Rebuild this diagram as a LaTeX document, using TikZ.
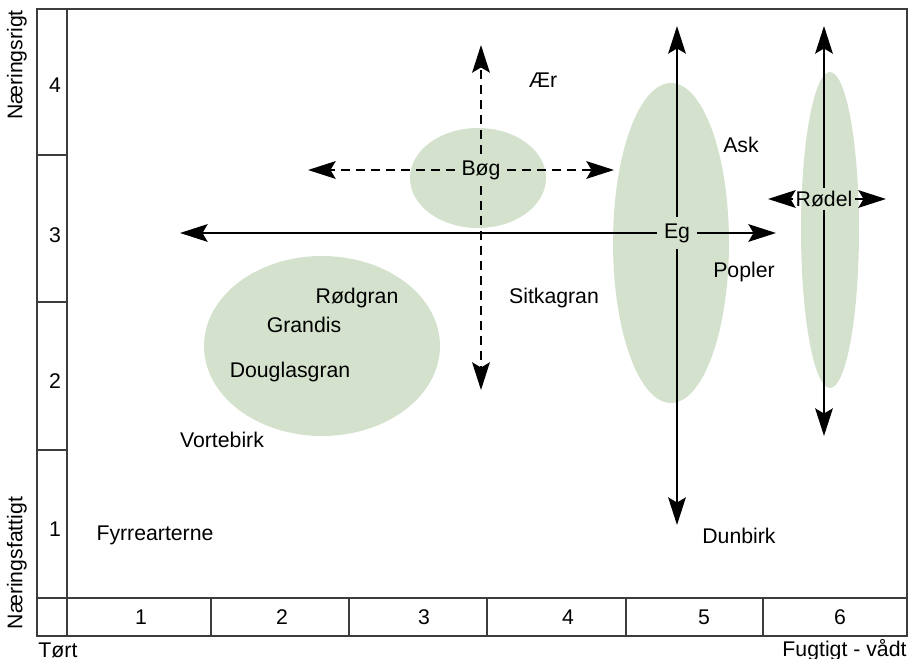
\documentclass[tikz,border=0pt]{standalone}
\usepackage{fontspec}
\setmainfont{Liberation Sans}
\usetikzlibrary{arrows.meta}

\definecolor{leafgreen}{RGB}{212,226,205}
\definecolor{gridgray}{RGB}{60,60,60}

\begin{document}
\begin{tikzpicture}[x=0.4pt,y=-0.4pt,font=\fontsize{8.5}{10}\selectfont,
    zone/.style={fill=leafgreen},
    frameline/.style={draw=gridgray, line width=0.6pt},
    spread/.style={-{Stealth[length=11pt,width=7pt,inset=2pt]}, line width=1.1pt},
    spreaddash/.style={spread, dash pattern=on 3.6pt off 2.4pt},
    tree/.style={inner sep=2.5pt}]
    \useasboundingbox (0,0) rectangle (921,659);

    % raster
    \draw[frameline] (37,9) rectangle (907,636);
    \draw[frameline] (67,9) -- (67,636);
    \draw[frameline] (37,598) -- (907,598);
    \foreach \y in {155,302,450} \draw[frameline] (37,\y) -- (67,\y);
    \foreach \x in {211,349,487,626,763} \draw[frameline] (\x,598) -- (\x,636);

    \node (n4) at (55,85) {4};
    \node (n3) at (55,235) {3};
    \node (n2) at (55,381) {2};
    \node (n1) at (55,529) {1};
    \node (m1) at (141,617) {1};
    \node (m2) at (282,617) {2};
    \node (m3) at (424,617) {3};
    \node (m4) at (568,617) {4};
    \node (m5) at (704,617) {5};
    \node (m6) at (840,617) {6};

    \node[rotate=90] (rich) at (17,65) {Næringsrigt};
    \node[rotate=90] (poor) at (17,563) {Næringsfattigt};
    \node[anchor=west, inner sep=0pt] (dry) at (38,650) {Tørt};
    \node[anchor=east, inner sep=0pt] (wet) at (907,650) {Fugtigt - vådt};

    % felter
    \fill[zone] (478,178) ellipse [x radius=68, y radius=50];
    \fill[zone] (322,346) ellipse [x radius=118, y radius=90];
    \fill[zone] (671,243) ellipse [x radius=58, y radius=160];
    \fill[zone] (830,230) ellipse [x radius=29, y radius=158];

    \node[tree] (boeg) at (481,170) {Bøg};
    \node[tree] (eg) at (677,233) {Eg};
    \node[inner sep=1pt] (roedel) at (824,199) {Rødel};

    \coordinate (boegN) at (481,45);
    \coordinate (boegS) at (481,390);
    \coordinate (boegW) at (308,170);
    \coordinate (boegE) at (614,170);
    \coordinate (egN) at (677,26);
    \coordinate (egS) at (677,525);
    \coordinate (egW) at (180,233);
    \coordinate (egE) at (776,233);
    \coordinate (roedelN) at (824,26);
    \coordinate (roedelS) at (824,436);
    \coordinate (roedelW) at (768,199);
    \coordinate (roedelE) at (886,199);

    \draw[spreaddash] (boeg) -- (boegN);
    \draw[spreaddash] (boeg) -- (boegS);
    \draw[spreaddash] (boeg) -- (boegW);
    \draw[spreaddash] (boeg) -- (boegE);
    \draw[spread] (eg) -- (egN);
    \draw[spread] (eg) -- (egS);
    \draw[spread] (eg) -- (egW);
    \draw[spread] (eg) -- (egE);
    \draw[spread] (roedel) -- (roedelN);
    \draw[spread] (roedel) -- (roedelS);
    \draw[spread] (roedel) -- (roedelW);
    \draw[spread] (roedel) -- (roedelE);

    \node (aer) at (543,80) {Ær};
    \node (ask) at (741,145) {Ask};
    \node (popler) at (744,272) {Popler};
    \node (sitka) at (554,298) {Sitkagran};
    \node (roedgran) at (357,298) {Rødgran};
    \node (grandis) at (304,325) {Grandis};
    \node (douglas) at (290,372) {Douglasgran};
    \node (vorte) at (222,440) {Vortebirk};
    \node (fyrre) at (155,535) {Fyrrearterne};
    \node (dunbirk) at (739,536) {Dunbirk};
\end{tikzpicture}
\end{document}
